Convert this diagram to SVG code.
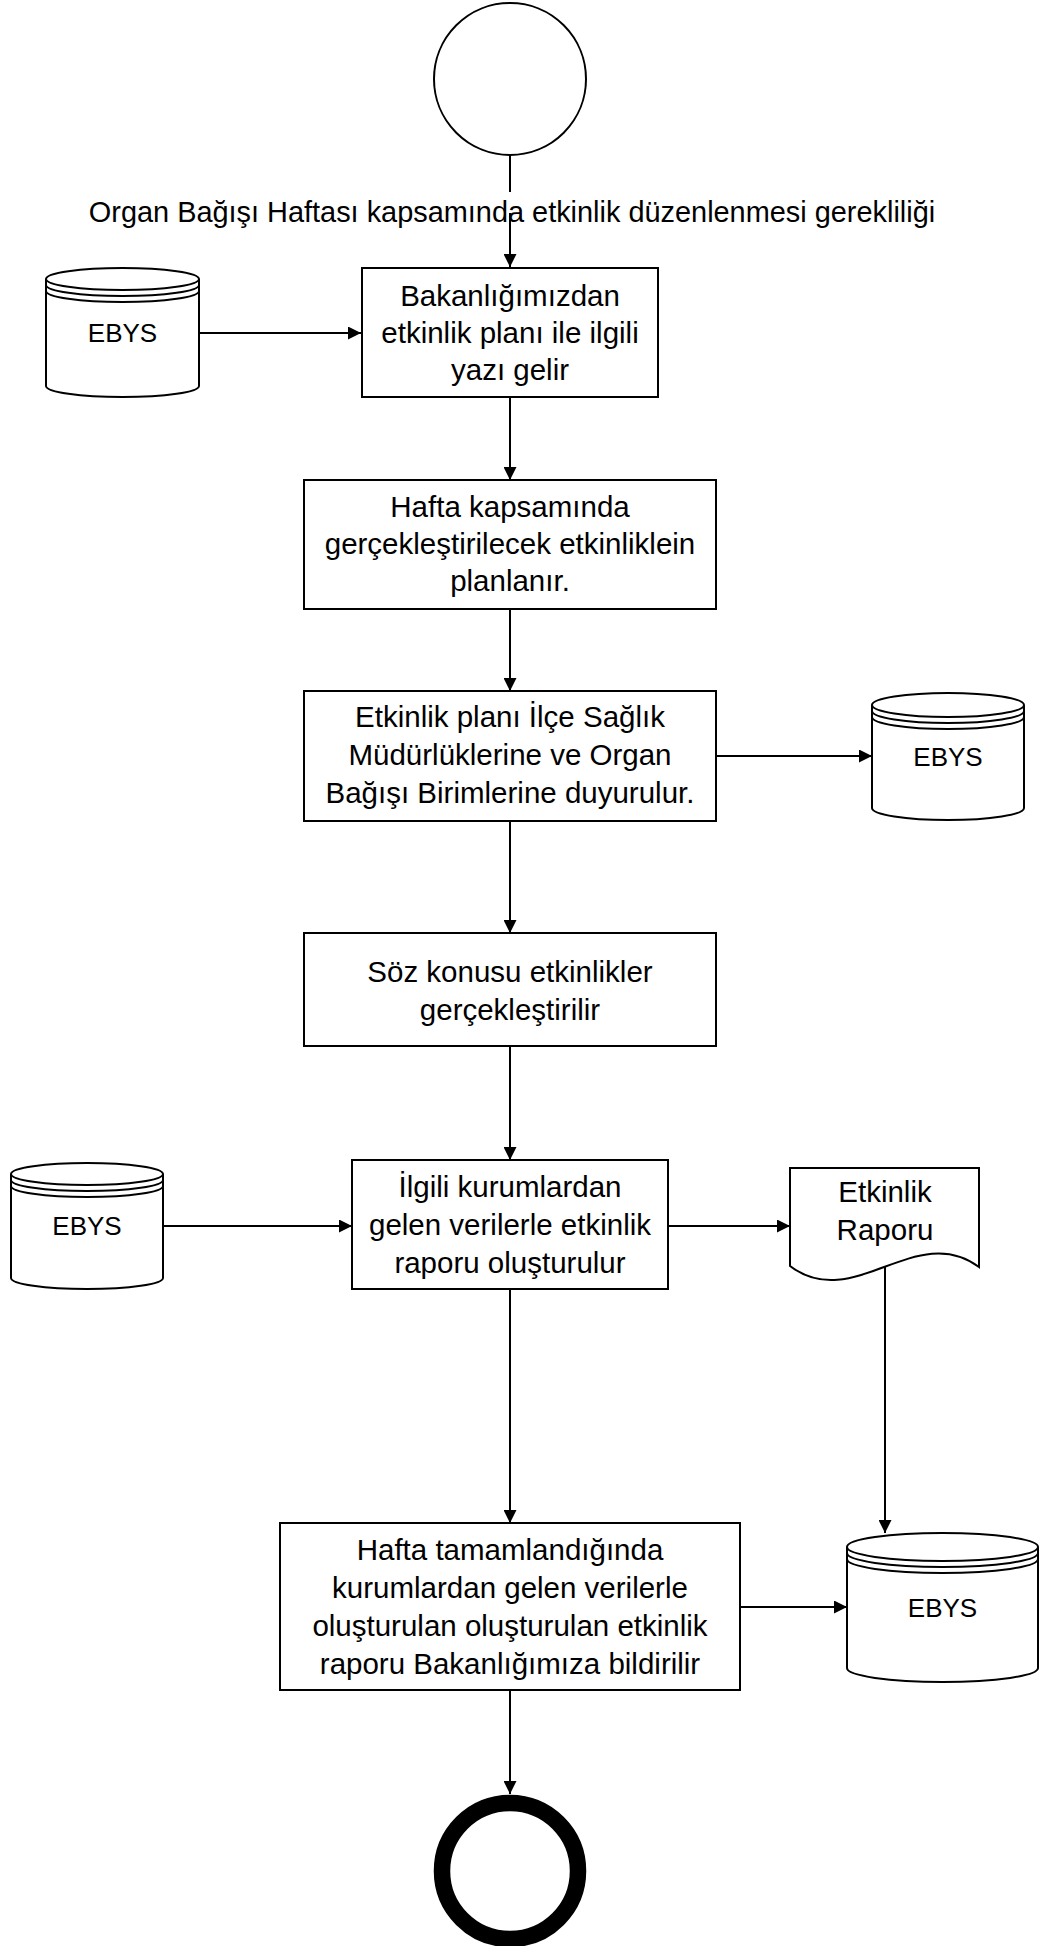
<svg xmlns="http://www.w3.org/2000/svg" width="1050" height="1946" viewBox="0 0 1050 1946">
<style>
  .shape { fill: #ffffff; stroke: #000000; stroke-width: 2; }
  .line { fill: none; stroke: #000000; stroke-width: 2; }
  .conn { fill: none; stroke: #000000; stroke-width: 2; marker-end: url(#arrow); }
  .t { font-family: "Liberation Sans", Arial, sans-serif; font-size: 29.5px; fill: #000000; text-anchor: middle; }
  .lbl { font-family: "Liberation Sans", Arial, sans-serif; font-size: 28.9px; fill: #000000; text-anchor: middle; }
  .e { font-family: "Liberation Sans", Arial, sans-serif; font-size: 26px; fill: #000000; text-anchor: middle; }
</style>
<defs>
  <marker id="arrow" viewBox="0 0 12 12" refX="12" refY="6" markerWidth="13" markerHeight="13" markerUnits="userSpaceOnUse" orient="auto">
    <path d="M0,0 L12,6 L0,12 z" fill="#000000"/>
  </marker>
</defs>
<rect x="0" y="0" width="1050" height="1946" fill="#ffffff"/>

<g id="connectors">
  <path class="line" d="M510,155 V192"/>
  <path class="conn" d="M510,213 V267"/>
  <path class="conn" d="M199,333 H361"/>
  <path class="conn" d="M510,397 V480"/>
  <path class="conn" d="M510,609 V691"/>
  <path class="conn" d="M716,756 H872"/>
  <path class="conn" d="M510,821 V933"/>
  <path class="conn" d="M510,1046 V1160"/>
  <path class="conn" d="M163,1226 H352"/>
  <path class="conn" d="M668,1226 H790"/>
  <path class="conn" d="M510,1289 V1523"/>
  <path class="conn" d="M885,1267 V1533"/>
  <path class="conn" d="M740,1607 H847"/>
  <path class="conn" d="M510,1690 V1794"/>
  <text class="lbl" x="512" y="222">Organ Bağışı Haftası kapsamında etkinlik düzenlenmesi gerekliliği</text>
</g>

<g id="start">
  <circle class="shape" cx="510" cy="79" r="76"/>
</g>

<g id="box1">
  <rect class="shape" x="362" y="268" width="296" height="129"/>
  <text class="t" x="510" y="306">Bakanlığımızdan</text>
  <text class="t" x="510" y="343">etkinlik planı ile ilgili</text>
  <text class="t" x="510" y="380">yazı gelir</text>
</g>

<g id="ebys1">
  <path class="shape" d="M46,279 V386 A76.5,11 0 0 0 199,386 V279"/>
  <ellipse class="shape" cx="122.5" cy="279" rx="76.5" ry="11"/>
  <path class="line" d="M46,285 A76.5,11 0 0 0 199,285 M46,291 A76.5,11 0 0 0 199,291"/>
  <text class="e" x="122.5" y="342">EBYS</text>
</g>

<g id="box2">
  <rect class="shape" x="304" y="480" width="412" height="129"/>
  <text class="t" x="510" y="517">Hafta kapsamında</text>
  <text class="t" x="510" y="554">gerçekleştirilecek etkinliklein</text>
  <text class="t" x="510" y="591">planlanır.</text>
</g>

<g id="box3">
  <rect class="shape" x="304" y="691" width="412" height="130"/>
  <text class="t" x="510" y="727">Etkinlik planı İlçe Sağlık</text>
  <text class="t" x="510" y="765">Müdürlüklerine ve Organ</text>
  <text class="t" x="510" y="803">Bağışı Birimlerine duyurulur.</text>
</g>

<g id="ebys2">
  <path class="shape" d="M872,705 V808 A76,12 0 0 0 1024,808 V705"/>
  <ellipse class="shape" cx="948" cy="705" rx="76" ry="12"/>
  <path class="line" d="M872,711 A76,12 0 0 0 1024,711 M872,717 A76,12 0 0 0 1024,717"/>
  <text class="e" x="948" y="766">EBYS</text>
</g>

<g id="box4">
  <rect class="shape" x="304" y="933" width="412" height="113"/>
  <text class="t" x="510" y="982">Söz konusu etkinlikler</text>
  <text class="t" x="510" y="1020">gerçekleştirilir</text>
</g>

<g id="box5">
  <rect class="shape" x="352" y="1160" width="316" height="129"/>
  <text class="t" x="510" y="1197">İlgili kurumlardan</text>
  <text class="t" x="510" y="1235">gelen verilerle etkinlik</text>
  <text class="t" x="510" y="1273">raporu oluşturulur</text>
</g>

<g id="ebys3">
  <path class="shape" d="M11,1174 V1278 A76,11 0 0 0 163,1278 V1174"/>
  <ellipse class="shape" cx="87" cy="1174" rx="76" ry="11"/>
  <path class="line" d="M11,1180 A76,11 0 0 0 163,1180 M11,1186 A76,11 0 0 0 163,1186"/>
  <text class="e" x="87" y="1235">EBYS</text>
</g>

<g id="doc">
  <path class="shape" d="M790,1168 H979 V1267 C916,1220 853,1314 790,1266 Z"/>
  <text class="t" x="885" y="1202">Etkinlik</text>
  <text class="t" x="885" y="1240">Raporu</text>
</g>

<g id="box6">
  <rect class="shape" x="280" y="1523" width="460" height="167"/>
  <text class="t" x="510" y="1560">Hafta tamamlandığında</text>
  <text class="t" x="510" y="1598">kurumlardan gelen verilerle</text>
  <text class="t" x="510" y="1636">oluşturulan oluşturulan etkinlik</text>
  <text class="t" x="510" y="1674">raporu Bakanlığımıza bildirilir</text>
</g>

<g id="ebys4">
  <path class="shape" d="M847,1547 V1668 A95.5,14 0 0 0 1038,1668 V1547"/>
  <ellipse class="shape" cx="942.5" cy="1547" rx="95.5" ry="14"/>
  <path class="line" d="M847,1553 A95.5,14 0 0 0 1038,1553 M847,1559 A95.5,14 0 0 0 1038,1559"/>
  <text class="e" x="942.5" y="1617">EBYS</text>
</g>

<g id="end">
  <circle cx="510" cy="1871" r="68" fill="#ffffff" stroke="#000000" stroke-width="16.5"/>
</g>
</svg>
